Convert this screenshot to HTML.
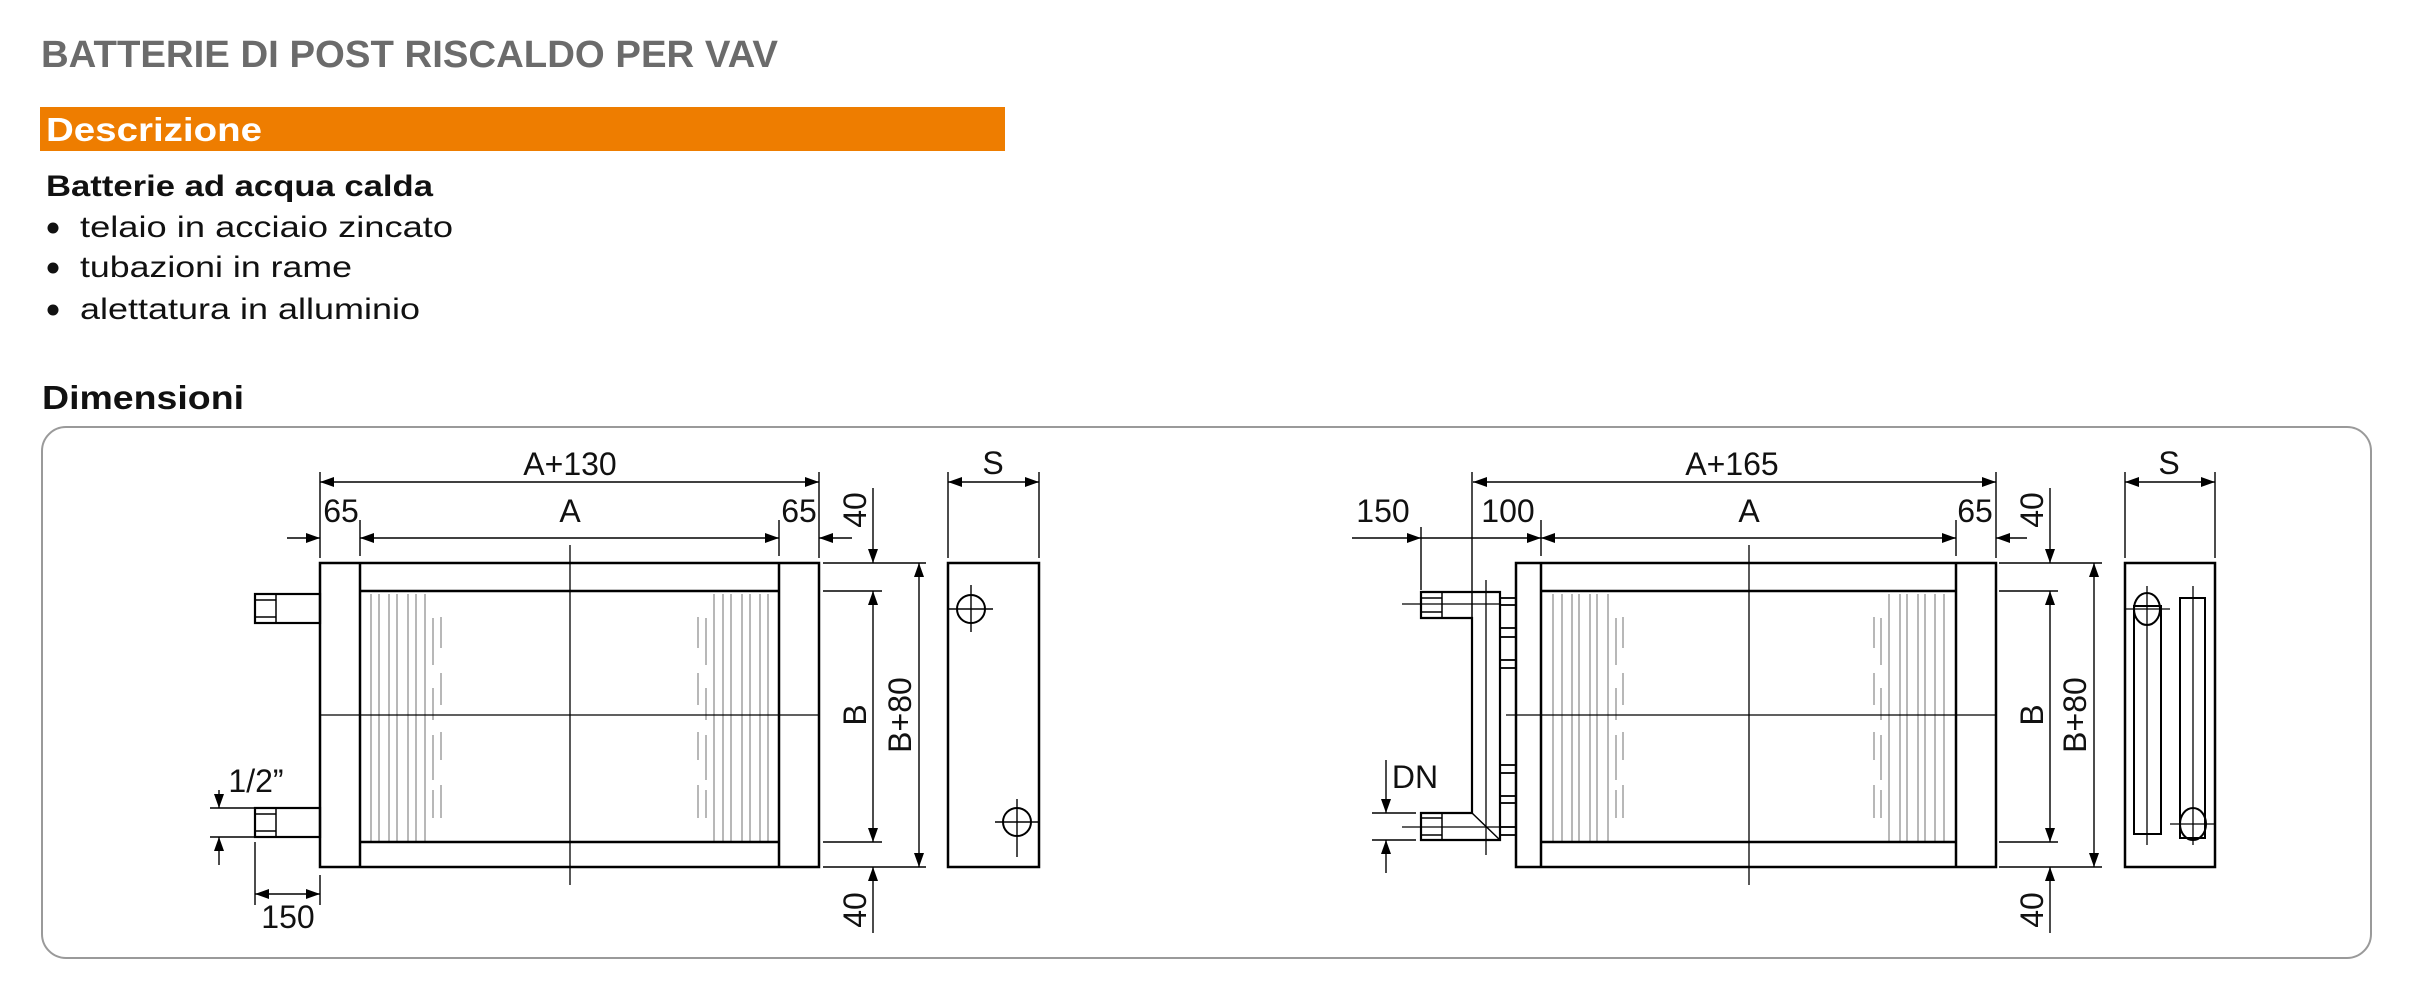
<!DOCTYPE html>
<html><head><meta charset="utf-8"><style>
html,body{margin:0;padding:0;background:#fff;}
svg{display:block;}
text{font-family:"Liberation Sans",Arial,sans-serif;}
</style></head><body>
<svg width="2413" height="1000" viewBox="0 0 2413 1000" xmlns="http://www.w3.org/2000/svg">
<defs>
<marker id="ar" viewBox="0 0 14 10" refX="14" refY="5" markerWidth="14" markerHeight="10" markerUnits="userSpaceOnUse" orient="auto-start-reverse"><path d="M0,0 L14,5 L0,10 Z" fill="#000"/></marker>
</defs>
<!-- header text -->
<text x="41" y="67" font-size="38" font-weight="bold" fill="#6b6b6b" textLength="737" lengthAdjust="spacingAndGlyphs">BATTERIE DI POST RISCALDO PER VAV</text>
<rect x="40" y="107" width="965" height="44" fill="#ee7d00"/>
<text x="46" y="141" font-size="33" font-weight="bold" fill="#fff" textLength="216" lengthAdjust="spacingAndGlyphs">Descrizione</text>
<text x="46" y="196" font-size="30" font-weight="bold" fill="#111" textLength="387" lengthAdjust="spacingAndGlyphs">Batterie ad acqua calda</text>
<circle cx="53" cy="228" r="5.5" fill="#111"/>
<circle cx="53" cy="268" r="5.5" fill="#111"/>
<circle cx="53" cy="310" r="5.5" fill="#111"/>
<text x="80" y="237" font-size="30" fill="#111" textLength="373" lengthAdjust="spacingAndGlyphs">telaio in acciaio zincato</text>
<text x="80" y="277" font-size="30" fill="#111" textLength="272" lengthAdjust="spacingAndGlyphs">tubazioni in rame</text>
<text x="80" y="319" font-size="30" fill="#111" textLength="340" lengthAdjust="spacingAndGlyphs">alettatura in alluminio</text>
<text x="42" y="409" font-size="33" font-weight="bold" fill="#111" textLength="202" lengthAdjust="spacingAndGlyphs">Dimensioni</text>
<rect x="42" y="427" width="2329" height="531" rx="24" ry="24" fill="none" stroke="#9a9a9a" stroke-width="2"/>

<g stroke="#000" fill="none">
<!-- ===== LEFT DRAWING ===== -->
<g stroke-width="1.4" stroke="#999">
<path d="M371 594V842M379 594V842M389 594V842M397 594V842M408 594V842M416 594V842M425 594V842"/>
<path d="M768 594V842M760 594V842M750 594V842M742 594V842M731 594V842M723 594V842M714 594V842"/>
<path d="M433 618V665M433 688V720M433 735V780M433 790V818M441 617V648M441 673V705M441 732V760M441 785V818"/>
<path d="M706 618V665M706 688V720M706 735V780M706 790V818M698 617V648M698 673V705M698 732V760M698 785V818"/>
</g>
<rect x="320" y="563" width="499" height="304" stroke-width="2.5"/>
<path d="M360 563V867M779 563V867M360 591H779M360 842H779" stroke-width="2.5"/>
<path d="M570 545V885M320 715H819" stroke-width="1.3"/>
<!-- pipes -->
<rect x="255" y="594" width="65" height="29" stroke-width="2.2"/>
<path d="M276 594V623M255 600H276M255 617H276" stroke-width="1.5"/>
<rect x="255" y="808" width="65" height="29" stroke-width="2.2"/>
<path d="M276 808V837M255 814H276M255 831H276" stroke-width="1.5"/>
<!-- dims -->
<g stroke-width="1.4">
<path d="M320 472V558M819 472V558M360 520V556M779 520V556"/>
<line x1="320" y1="482" x2="819" y2="482" marker-start="url(#ar)" marker-end="url(#ar)"/>
<line x1="287" y1="538" x2="320" y2="538" marker-end="url(#ar)"/>
<line x1="360" y1="538" x2="779" y2="538" marker-start="url(#ar)" marker-end="url(#ar)"/>
<line x1="852" y1="538" x2="819" y2="538" marker-end="url(#ar)"/>
<path d="M823 563H926M823 591H882M823 842H882M823 867H926"/>
<line x1="873" y1="488" x2="873" y2="563" marker-end="url(#ar)"/>
<line x1="873" y1="591" x2="873" y2="842" marker-start="url(#ar)" marker-end="url(#ar)"/>
<line x1="873" y1="933" x2="873" y2="867" marker-end="url(#ar)"/>
<line x1="919" y1="563" x2="919" y2="867" marker-start="url(#ar)" marker-end="url(#ar)"/>
<path d="M255 842V905M320 875V905"/>
<line x1="255" y1="894" x2="320" y2="894" marker-start="url(#ar)" marker-end="url(#ar)"/>
<path d="M210 808H255M210 837H255"/>
<line x1="219" y1="790" x2="219" y2="808" marker-end="url(#ar)"/>
<line x1="219" y1="865" x2="219" y2="837" marker-end="url(#ar)"/>
<path d="M948 472V558M1039 472V558"/>
<line x1="948" y1="482" x2="1039" y2="482" marker-start="url(#ar)" marker-end="url(#ar)"/>
</g>
<!-- side view left -->
<rect x="948" y="563" width="91" height="304" stroke-width="2.5"/>
<circle cx="971" cy="609" r="14" stroke-width="2"/>
<path d="M948 609H993M971 585V632" stroke-width="1.4"/>
<circle cx="1017" cy="822" r="14" stroke-width="2"/>
<path d="M995 822H1039M1017 799V857" stroke-width="1.4"/>

<!-- ===== RIGHT DRAWING ===== -->
<g stroke-width="1.4" stroke="#999">
<path d="M1553 594V842M1562 594V842M1572 594V842M1579 594V842M1590 594V842M1597 594V842M1608 594V842"/>
<path d="M1944 594V842M1935 594V842M1925 594V842M1918 594V842M1907 594V842M1900 594V842M1889 594V842"/>
<path d="M1616 618V665M1616 688V720M1616 735V780M1616 790V818M1623 617V648M1623 673V705M1623 732V760M1623 785V818"/>
<path d="M1881 618V665M1881 688V720M1881 735V780M1881 790V818M1874 617V648M1874 673V705M1874 732V760M1874 785V818"/>
</g>
<rect x="1516" y="563" width="480" height="304" stroke-width="2.5"/>
<path d="M1541 563V867M1956 563V867M1541 591H1956M1541 842H1956" stroke-width="2.5"/>
<path d="M1749 545V885M1506 715H1996" stroke-width="1.3"/>
<!-- manifold -->
<path d="M1472 618H1421V592H1500V840H1421V813H1472Z" stroke-width="2.2"/>
<path d="M1472 592V813M1472 813L1500 840M1442 592V618M1442 813V840M1421 598H1442M1421 612H1442M1421 818H1442M1421 835H1442" stroke-width="1.5"/>
<path d="M1486 580V855M1402 604H1499M1402 827H1516" stroke-width="1.3"/>
<g stroke-width="1.8">
<rect x="1500" y="598" width="16" height="7"/>
<rect x="1500" y="628" width="16" height="9"/>
<rect x="1500" y="660" width="16" height="8"/>
<rect x="1500" y="765" width="16" height="8"/>
<rect x="1500" y="796" width="16" height="7"/>
<rect x="1500" y="827" width="16" height="8"/>
</g>
<!-- dims right -->
<g stroke-width="1.4">
<path d="M1472 472V592M1421 527V590M1541 520V556M1956 520V556M1996 472V558"/>
<line x1="1473" y1="482" x2="1996" y2="482" marker-start="url(#ar)" marker-end="url(#ar)"/>
<line x1="1352" y1="538" x2="1421" y2="538" marker-end="url(#ar)"/>
<line x1="1421" y1="538" x2="1541" y2="538" marker-end="url(#ar)"/>
<line x1="1541" y1="538" x2="1956" y2="538" marker-start="url(#ar)" marker-end="url(#ar)"/>
<line x1="2027" y1="538" x2="1996" y2="538" marker-end="url(#ar)"/>
<path d="M1999 563H2102M1999 591H2058M1999 842H2058M1999 867H2102"/>
<line x1="2050" y1="488" x2="2050" y2="563" marker-end="url(#ar)"/>
<line x1="2050" y1="591" x2="2050" y2="842" marker-start="url(#ar)" marker-end="url(#ar)"/>
<line x1="2050" y1="933" x2="2050" y2="867" marker-end="url(#ar)"/>
<line x1="2094" y1="563" x2="2094" y2="867" marker-start="url(#ar)" marker-end="url(#ar)"/>
<path d="M1372 813H1416M1372 840H1416"/>
<line x1="1386" y1="760" x2="1386" y2="813" marker-end="url(#ar)"/>
<line x1="1386" y1="873" x2="1386" y2="840" marker-end="url(#ar)"/>
<path d="M2125 472V558M2215 472V558"/>
<line x1="2125" y1="482" x2="2215" y2="482" marker-start="url(#ar)" marker-end="url(#ar)"/>
</g>
<!-- side view right -->
<rect x="2125" y="563" width="90" height="304" stroke-width="2.5"/>
<rect x="2134" y="606" width="27" height="228" stroke-width="2"/>
<rect x="2180" y="598" width="25" height="240" stroke-width="2"/>
<ellipse cx="2147" cy="609" rx="13" ry="16" stroke-width="2"/>
<ellipse cx="2193" cy="824" rx="13" ry="16" stroke-width="2"/>
<path d="M2147 586V845M2193 586V845M2125 609H2170M2170 824H2215" stroke-width="1.3"/>
</g>

<!-- drawing labels -->
<g font-size="32" fill="#111" text-anchor="middle">
<text x="570" y="475">A+130</text>
<text x="341" y="522">65</text>
<text x="570" y="522">A</text>
<text x="799" y="522">65</text>
<text x="993" y="474">S</text>
<text x="288" y="928">150</text>
<text x="256" y="792">1/2”</text>
<text transform="translate(866,510) rotate(-90)">40</text>
<text transform="translate(866,910) rotate(-90)">40</text>
<text transform="translate(866,715) rotate(-90)">B</text>
<text transform="translate(911,715) rotate(-90)">B+80</text>

<text x="1732" y="475">A+165</text>
<text x="1383" y="522">150</text>
<text x="1508" y="522">100</text>
<text x="1749" y="522">A</text>
<text x="1975" y="522">65</text>
<text x="2169" y="474">S</text>
<text x="1415" y="788">DN</text>
<text transform="translate(2043,510) rotate(-90)">40</text>
<text transform="translate(2043,910) rotate(-90)">40</text>
<text transform="translate(2043,715) rotate(-90)">B</text>
<text transform="translate(2086,715) rotate(-90)">B+80</text>
</g>
</svg>
</body></html>
